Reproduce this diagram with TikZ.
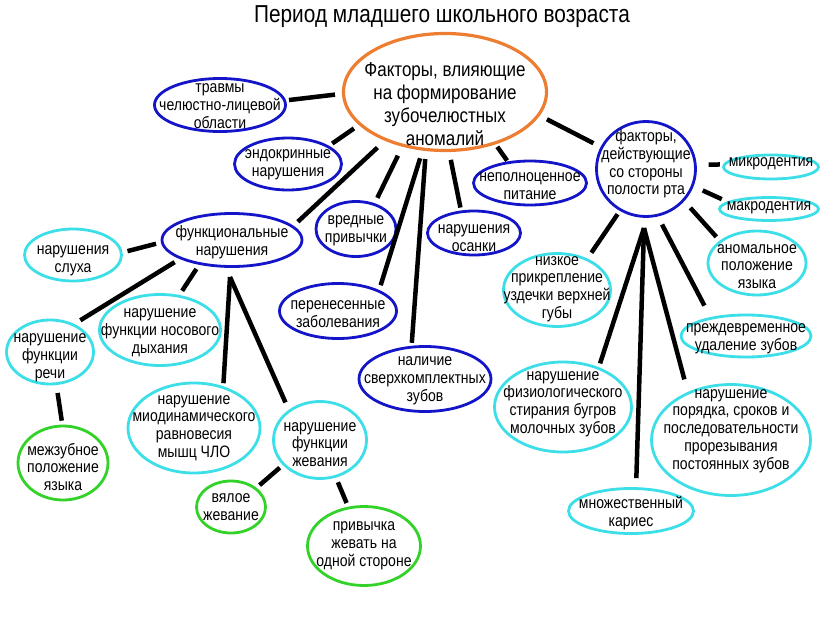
\documentclass[tikz,border=0pt]{standalone}
\usepackage{fontspec}
\setmainfont{Liberation Sans}[FakeStretch=0.85]
\usetikzlibrary{shapes.geometric}
\definecolor{eblue}{RGB}{20,20,200}
\definecolor{ecyan}{RGB}{60,222,232}
\definecolor{egreen}{RGB}{50,210,40}
\definecolor{eorange}{RGB}{237,125,49}
\begin{document}
\begin{tikzpicture}[x=1pt,y=-1pt,
  el/.style={ellipse, draw, line width=2.8pt, inner sep=0pt},
  bl/.style={el, draw=eblue},
  cy/.style={el, draw=ecyan},
  gr/.style={el, draw=egreen},
  sz/.style 2 args={minimum width=#1pt, minimum height=#2pt},
  lab/.style={align=center, inner sep=0pt, font=\fontsize{16.5}{17.8}\selectfont},
  tx/.style 2 args={label={[lab, yshift=#1pt]center:{#2}}},
  link/.style={line width=4.5pt, shorten <=5pt, shorten >=5pt}]
\useasboundingbox (0,0) rectangle (822,629);
\node[font=\fontsize{24.5}{28}\selectfont] (title) at (442,17) {Период младшего школьного возраста};
\node[el, draw=eorange, line width=3.2pt, sz={203}{117},
  label={[align=center, inner sep=0pt, font=\fontsize{20}{23}\selectfont, yshift=-12pt]center:{Факторы, влияющие\\на формирование\\зубочелюстных\\аномалий}}] (C) at (445,92) {};
\node[bl, sz={131}{53}, tx={-1}{травмы\\челюстно-лицевой\\области}] (T) at (220,105) {};
\node[bl, sz={107}{52}, tx={-1}{эндокринные\\нарушения}] (E) at (288,164) {};
\node[bl, sz={113}{44}, tx={-3}{неполноценное\\питание}] (Np) at (530,183) {};
\node[bl, sz={93}{44}, tx={-5}{нарушения\\осанки}] (O) at (474,233) {};
\node[bl, sz={80}{55}, tx={-1.5}{вредные\\привычки}] (V) at (356,229) {};
\node[bl, sz={140}{53}, tx={-2.5}{функциональные\\нарушения}] (F) at (232,240) {};
\node[cy, sz={97}{52}, tx={-5.5}{нарушения\\слуха}] (S) at (73,255) {};
\node[bl, sz={117}{55}, tx={-3}{перенесенные\\заболевания}] (P) at (338,311) {};
\node[cy, sz={121}{71}, tx={-3}{нарушение\\функции носового\\дыхания}] (Nd) at (160,330) {};
\node[cy, sz={87}{64}, tx={-6}{нарушение\\функции\\речи}] (R) at (50,352) {};
\node[bl, sz={132}{65}, tx={-2}{наличие\\сверхкомплектных\\зубов}] (N) at (425,379) {};
\node[gr, sz={90}{74}, tx={-4}{межзубное\\положение\\языка}] (Mz) at (63,463) {};
\node[cy, sz={132}{90}, tx={0}{нарушение\\миодинамического\\равновесия\\мышц ЧЛО}] (My) at (194,428) {};
\node[cy, sz={93}{77}, tx={-4.5}{нарушение\\функции\\жевания}] (Zh) at (320,440) {};
\node[gr, sz={69}{52}, tx={0}{вялое\\жевание}] (Vy) at (231,507) {};
\node[gr, sz={113}{79}, tx={0}{привычка\\жевать на\\одной стороне}] (Pv) at (364,546) {};
\node[bl, sz={99}{95}, tx={5}{факторы,\\действующие\\со стороны\\полости рта}] (Fa) at (646,169) {};
\node[cy, sz={95}{24}, tx={3}{микродентия}] (Mi) at (771,167) {};
\node[cy, sz={99}{23}, tx={1}{макродентия}] (Ma) at (769,209) {};
\node[cy, sz={98}{64}, tx={-3.5}{аномальное\\положение\\языка}] (A) at (757,263) {};
\node[cy, sz={107}{73}, tx={1}{низкое\\прикрепление\\уздечки верхней\\губы}] (L) at (557,290) {};
\node[cy, sz={130}{42}, tx={-2.5}{преждевременное\\удаление зубов}] (Pr) at (746,336) {};
\node[cy, sz={137}{90}, tx={3}{нарушение\\физиологического\\стирания бугров\\молочных зубов}] (Fz) at (563,407) {};
\node[cy, sz={159}{111}, tx={9}{нарушение\\порядка, сроков и\\последовательности\\прорезывания\\постоянных зубов}] (Po) at (731,440) {};
\node[cy, sz={125}{45}, tx={-2}{множественный\\кариес}] (K) at (631,511) {};
\draw[link, shorten <=7pt, shorten >=3pt] (C.181) -- (T.4);
\draw[link, shorten <=6pt, shorten >=4pt] (C.201) -- (E.24);
\draw[link, shorten <=10pt, shorten >=6pt] (C.219) -- (F.13);
\draw[link, shorten <=10pt, shorten >=6pt] (C.232) -- (V.54);
\draw[link, shorten <=8pt, shorten >=5pt] (C.249) -- (P.27);
\draw[link, shorten <=8pt, shorten >=3pt] (C.252) -- (N.112);
\draw[link, shorten <=8pt, shorten >=3pt] (C.274) -- (O.120);
\draw[link, shorten <=3pt, shorten >=1pt] (C.314) -- (Np.136);
\draw[link, shorten <=8pt, shorten >=8pt] (C.346) -- (Fa.154);
\draw[link, shorten <=12pt, shorten >=3pt] (Fa.5) -- (Mi.177);
\draw[link, shorten <=10pt, shorten >=6pt] (Fa.340) -- (Ma.170);
\draw[link, shorten <=9pt, shorten >=5pt] (Fa.320) -- (A.149);
\draw[link, shorten <=4pt, shorten >=7pt] (Fa.238) -- (L.46);
\draw[link, shorten <=9pt, shorten >=13pt] (Fa.284) -- (Pr.152);
\coordinate (fan) at (644,228);
\draw[link, shorten <=0pt, shorten >=4pt] (fan) -- (Fz.48);
\draw[link, shorten <=0pt, shorten >=9pt] (fan) -- (K.78);
\draw[link, shorten <=0pt, shorten >=13pt] (fan) -- (Po.132);
\draw[link] (F.182) -- (S.3);
\draw[link, shorten <=6pt, shorten >=7pt] (F.200) -- (R.49);
\draw[link] (F.217) -- (Nd.61);
\coordinate (fan2) at (230,277);
\draw[link, shorten <=0pt, shorten >=3pt] (fan2) -- (My.55);
\draw[link, shorten <=0pt, shorten >=8pt] (fan2) -- (Zh.136);
\draw[link, shorten <=8pt, shorten >=4pt] (R.281) -- (Mz.91);
\draw[link, shorten <=4pt, shorten >=4pt] (Zh.214) -- (Vy.37);
\draw[link, shorten <=5pt, shorten >=4pt] (Zh.293) -- (Pv.112);
\end{tikzpicture}
\end{document}
